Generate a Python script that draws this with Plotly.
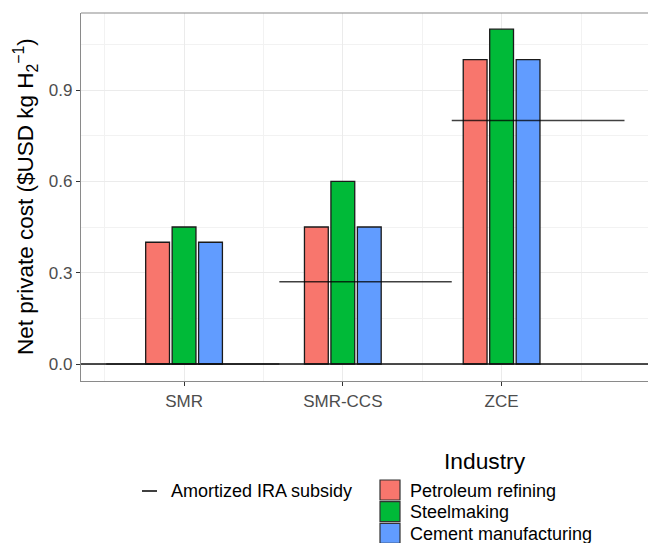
import plotly.graph_objects as go

# ---------------- data ----------------
pathways = ["SMR", "SMR-CCS", "ZCE"]
industries = ["Petroleum refining", "Steelmaking", "Cement manufacturing"]
industry_colors = ["#F8766D", "#00BA38", "#619CFF"]
cost_petroleum = [0.40, 0.45, 1.00]
cost_steel = [0.45, 0.60, 1.10]
cost_cement = [0.40, 0.45, 1.00]
subsidy = [0.0, 0.27, 0.80]
subsidy_x_start = [-0.49, 0.60, 1.686]
subsidy_x_end = [0.60, 1.686, 2.774]
y_ticks = [0.0, 0.3, 0.6, 0.9]
y_tick_labels = ["0.0", "0.3", "0.6", "0.9"]
y_title = "Net private cost ($USD kg H<sub>2</sub><sup>−1</sup>)"
legend_line_label = "Amortized IRA subsidy"
legend_title = "Industry"

costs = [cost_petroleum, cost_steel, cost_cement]
xpos = list(range(len(pathways)))

W, H = 648, 543
ML, MR, MT, MB = 81, 0, 13, 543 - 381
PW, PH = W - ML - MR, H - MT - MB


def px(x):
    return (x - ML) / PW


def py(y):
    return (H - MB - y) / PH


FONT = "Liberation Sans, Arial, Helvetica, sans-serif"

fig = go.Figure()
for name, vals, col in zip(industries, costs, industry_colors):
    fig.add_trace(go.Bar(
        x=xpos, y=vals, name=name, marker=dict(color=col, line=dict(color="#1a1a1a", width=1.3)),
        showlegend=False,
    ))

for x0, x1, s in zip(subsidy_x_start, subsidy_x_end, subsidy):
    fig.add_trace(go.Scatter(
        x=[x0, x1], y=[s, s], mode="lines", line=dict(color="rgba(0,0,0,0.75)", width=1.5),
        showlegend=False, hoverinfo="skip",
    ))

shapes = []
shapes.append(dict(type="line", xref="paper", yref="y", x0=0, x1=1, y0=0, y1=0,
                   line=dict(color="#111111", width=1.4), layer="above"))
shapes.append(dict(type="line", xref="paper", yref="paper", x0=0, x1=1, y0=1, y1=1,
                   line=dict(color="#8a8a8a", width=1.2), layer="above"))

annotations = []
# y-axis title
annotations.append(dict(text=y_title, xref="paper", yref="paper", x=px(25), y=py(197),
                        xanchor="center", yanchor="middle", textangle=-90, showarrow=False,
                        font=dict(family=FONT, size=22.5, color="black")))
# legend
shapes.append(dict(type="line", xref="paper", yref="paper", x0=px(142), x1=px(157), y0=py(491), y1=py(491),
                   line=dict(color="black", width=1.5)))
annotations.append(dict(text=legend_line_label, xref="paper", yref="paper", x=px(169), y=py(491),
                        xanchor="left", yanchor="middle", showarrow=False,
                        font=dict(family=FONT, size=18, color="black")))
annotations.append(dict(text=legend_title, xref="paper", yref="paper", x=px(485), y=py(461),
                        xanchor="center", yanchor="middle", showarrow=False,
                        font=dict(family=FONT, size=22.8, color="black")))
for i, (name, col) in enumerate(zip(industries, industry_colors)):
    top = 480 + i * 21.7
    shapes.append(dict(type="rect", xref="paper", yref="paper", x0=px(380), x1=px(400),
                       y0=py(top), y1=py(top + 20), fillcolor=col,
                       line=dict(color="#333333", width=1.2)))
    annotations.append(dict(text=name, xref="paper", yref="paper", x=px(408), y=py(top + 10.5),
                            xanchor="left", yanchor="middle", showarrow=False,
                            font=dict(family=FONT, size=18, color="black")))

fig.update_layout(
    width=W, height=H,
    margin=dict(l=ML, r=MR, t=MT, b=MB, pad=0),
    plot_bgcolor="white", paper_bgcolor="white",
    barmode="group", bargap=0.5, bargroupgap=0.1,
    font=dict(family=FONT),
    showlegend=False,
    shapes=shapes, annotations=annotations,
    xaxis=dict(
        range=[-0.649, 2.922], tickvals=xpos, ticktext=pathways,
        showgrid=True, gridcolor="#EBEBEB", gridwidth=1.3,
        minor=dict(tickvals=[-0.5, 0.5, 1.5, 2.5], showgrid=True, gridcolor="#F2F2F2", gridwidth=0.9),
        showline=True, linecolor="#8a8a8a", linewidth=1.2,
        ticks="outside", ticklen=4, tickcolor="#333333", tickwidth=1,
        tickfont=dict(family=FONT, size=17, color="#4D4D4D"),
        zeroline=False,
    ),
    yaxis=dict(
        range=[-0.0558, 1.153], tickvals=y_ticks, ticktext=y_tick_labels,
        showgrid=True, gridcolor="#EBEBEB", gridwidth=1.3,
        minor=dict(tickvals=[0.15, 0.45, 0.75, 1.05], showgrid=True, gridcolor="#F2F2F2", gridwidth=0.9),
        showline=True, linecolor="#8a8a8a", linewidth=1.2,
        ticks="outside", ticklen=4, tickcolor="#333333", tickwidth=1,
        tickfont=dict(family=FONT, size=17, color="#4D4D4D"),
        zeroline=False,
    ),
)

fig.write_html(
    "out.html",
    config={"displayModeBar": False},
    post_script="document.body.style.margin='0';document.body.style.overflow='hidden';",
)
